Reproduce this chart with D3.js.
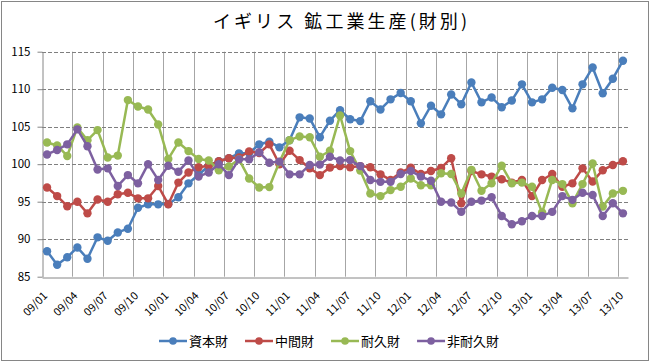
<!DOCTYPE html>
<html>
<head>
<meta charset="utf-8">
<script src="https://cdn.jsdelivr.net/npm/d3@7/dist/d3.min.js"></script>
<style>
body { margin: 0; background: #fff; }
svg text { font-family: "Noto Sans CJK JP", sans-serif; }
</style>
</head>
<body>
<svg id="main" width="651" height="363"></svg>
<script>
var months = [
  "09/01","09/02","09/03","09/04","09/05","09/06","09/07","09/08","09/09","09/10","09/11","09/12",
  "10/01","10/02","10/03","10/04","10/05","10/06","10/07","10/08","10/09","10/10","10/11","10/12",
  "11/01","11/02","11/03","11/04","11/05","11/06","11/07","11/08","11/09","11/10","11/11","11/12",
  "12/01","12/02","12/03","12/04","12/05","12/06","12/07","12/08","12/09","12/10","12/11","12/12",
  "13/01","13/02","13/03","13/04","13/05","13/06","13/07","13/08","13/09","13/10"
];
var tickLabels = ["09/01","09/04","09/07","09/10","10/01","10/04","10/07","10/10","11/01","11/04",
                  "11/07","11/10","12/01","12/04","12/07","12/10","13/01","13/04","13/07","13/10"];
var yTicks = [85, 90, 95, 100, 105, 110, 115];
var seriesNames = ["資本財", "中間財", "耐久財", "非耐久財"];

var capital = [88.4, 86.6, 87.6, 88.9, 87.4, 90.25, 89.8, 90.9, 91.4, 94.2,
  94.65, 94.65, 94.7, 95.6, 97.45, 98.6, 99.8, 100.4, 100.8, 101.45,
  101.5, 102.65, 103.0, 102.25, 103.2, 106.25, 106.1, 103.6, 105.8, 107.2,
  106.0, 105.75, 108.4, 107.3, 108.65, 109.5, 108.4, 105.45, 107.8, 106.65,
  109.3, 108.0, 110.9, 108.25, 108.9, 107.6, 108.5, 110.65, 108.25, 108.65,
  110.2, 109.9, 107.45, 110.65, 112.9, 109.45, 111.4, 113.8];
var intermediate = [96.9, 95.75, 94.4, 95.0, 93.45, 95.3, 95.0, 96.0, 96.2, 95.45,
  95.45, 97.1, 94.65, 97.55, 98.9, 99.6, 99.8, 100.4, 100.8, 100.9,
  101.7, 101.5, 102.65, 100.0, 101.8, 100.55, 99.45, 98.55, 99.55, 99.75,
  99.6, 99.75, 99.6, 98.65, 97.9, 98.9, 99.55, 98.7, 99.1, 99.5,
  100.8, 94.8, 99.1, 98.65, 98.35, 98.0, 97.55, 97.9, 95.75, 97.9,
  98.7, 97.0, 97.45, 99.45, 97.7, 99.2, 99.9, 100.4];
var durable = [102.9, 102.5, 101.1, 104.9, 103.2, 104.55, 100.9, 101.15, 108.55, 107.7,
  107.3, 105.3, 100.7, 102.9, 101.75, 100.7, 100.5, 99.2, 99.7, 100.65,
  98.1, 96.9, 96.95, 100.3, 103.2, 103.7, 103.6, 101.0, 101.8, 106.5,
  101.75, 99.15, 96.1, 95.75, 96.55, 97.0, 98.1, 97.2, 97.2, 98.8,
  98.7, 96.1, 99.25, 96.45, 97.45, 99.8, 97.45, 97.55, 97.0, 93.55,
  97.9, 97.35, 94.8, 97.35, 100.1, 94.35, 96.1, 96.45];
var nondurable = [101.3, 101.9, 102.65, 104.65, 102.4, 99.3, 99.45, 97.1, 98.55, 97.45,
  100.0, 97.9, 99.8, 99.0, 100.5, 98.35, 98.9, 100.0, 98.55, 100.65,
  100.65, 101.6, 100.2, 100.35, 98.65, 98.65, 99.9, 99.95, 101.0, 100.5,
  100.55, 99.75, 97.9, 97.65, 97.65, 98.7, 99.1, 98.35, 97.8, 95.0,
  94.9, 93.65, 95.0, 95.15, 95.6, 93.1, 92.0, 92.4, 93.1, 93.1,
  93.65, 95.75, 95.25, 96.2, 95.9, 93.1, 94.8, 93.45];

var colors = ["#4a7ebb", "#be4b48", "#98b954", "#7d60a0"];

var svg = d3.select("body").select("#main");
var plotTop = 51.7, plotBottom = 276.7, plotLeft = 42, plotRight = 628;

var x = d3.scaleBand().domain(months).range([plotLeft, plotRight]);
var y = d3.scaleLinear().domain([85, 115]).range([plotBottom, plotTop]);
function cx(i) { return x(months[i]) + x.bandwidth() / 2; }

// outer border
svg.append("rect")
    .attr("x", 1.5).attr("y", 1.5)
    .attr("width", 647).attr("height", 359)
    .attr("fill", "#fff")
    .attr("stroke", "#868686");

// title
svg.append("text")
    .attr("x", 340).attr("y", 28)
    .attr("text-anchor", "middle")
    .attr("font-size", "18px")
    .attr("fill", "#000")
    .attr("textLength", 254)
    .attr("lengthAdjust", "spacing")
    .text("イギリス 鉱工業生産(財別)");

// vertical gridlines every 3 months, on the category boundaries
for (var i = 3; i < months.length; i += 3) {
    svg.append("line")
        .attr("x1", Math.round(x(months[i])) + 0.5).attr("x2", Math.round(x(months[i])) + 0.5)
        .attr("y1", plotTop).attr("y2", plotBottom)
        .attr("stroke", "#a6a6a6");
}

// horizontal dashed gridlines
yTicks.filter(function(v) { return v > 85; }).forEach(function(v) {
    svg.append("line")
        .attr("x1", plotLeft).attr("x2", plotRight)
        .attr("y1", Math.round(y(v)) + 0.5).attr("y2", Math.round(y(v)) + 0.5)
        .attr("stroke", "#7f7f7f")
        .attr("stroke-dasharray", "4,2");
});

// y axis
var yAxis = svg.append("g")
    .attr("transform", "translate(" + (plotLeft + 0.5) + ",0)")
    .call(d3.axisLeft(y).tickValues(yTicks).tickSize(5).tickSizeOuter(0).tickPadding(7));
yAxis.selectAll("path, line").attr("stroke", "#868686");
yAxis.selectAll("text").attr("font-size", "11.5px").attr("fill", "#000")
    .style("font-family", '"Noto Sans CJK JP", sans-serif');

// x axis
var xAxis = svg.append("g")
    .attr("transform", "translate(0," + (Math.round(plotBottom) + 0.5) + ")")
    .call(d3.axisBottom(x).tickValues(tickLabels).tickSize(0).tickSizeOuter(0));
xAxis.select("path").attr("stroke", "#868686");
xAxis.selectAll("text")
    .attr("font-size", "11px").attr("fill", "#000")
    .style("font-family", '"Noto Sans CJK JP", sans-serif')
    .attr("text-anchor", "end")
    .attr("x", 0).attr("y", 0).attr("dy", 0)
    .attr("transform", "translate(1,19) rotate(-45)");

// series
var allSeries = [capital, intermediate, durable, nondurable];
var line = d3.line()
    .x(function(d, i) { return cx(i); })
    .y(function(d) { return y(d); });

allSeries.forEach(function(values, s) {
    var g = svg.append("g");
    g.append("path")
        .attr("d", line(values))
        .attr("fill", "none")
        .attr("stroke", colors[s])
        .attr("stroke-width", 2.5)
        .attr("stroke-linejoin", "round");
    g.selectAll("circle")
        .data(values)
        .enter().append("circle")
        .attr("cx", function(d, i) { return cx(i); })
        .attr("cy", function(d) { return y(d); })
        .attr("r", 4.2)
        .attr("fill", colors[s]);
});

// legend
var legend = svg.append("g").attr("transform", "translate(0,341)");
var lx = 159;
seriesNames.forEach(function(name, s) {
    legend.append("line")
        .attr("x1", lx).attr("x2", lx + 28)
        .attr("y1", 0).attr("y2", 0)
        .attr("stroke", colors[s]).attr("stroke-width", 2.5);
    legend.append("circle")
        .attr("cx", lx + 14).attr("cy", 0).attr("r", 3.8)
        .attr("fill", colors[s]);
    var t = legend.append("text")
        .attr("x", lx + 30).attr("y", 5)
        .attr("font-size", "13px")
        .attr("fill", "#000")
        .text(name);
    lx += 30 + t.node().getComputedTextLength() + 17;
});
</script>
</body>
</html>
